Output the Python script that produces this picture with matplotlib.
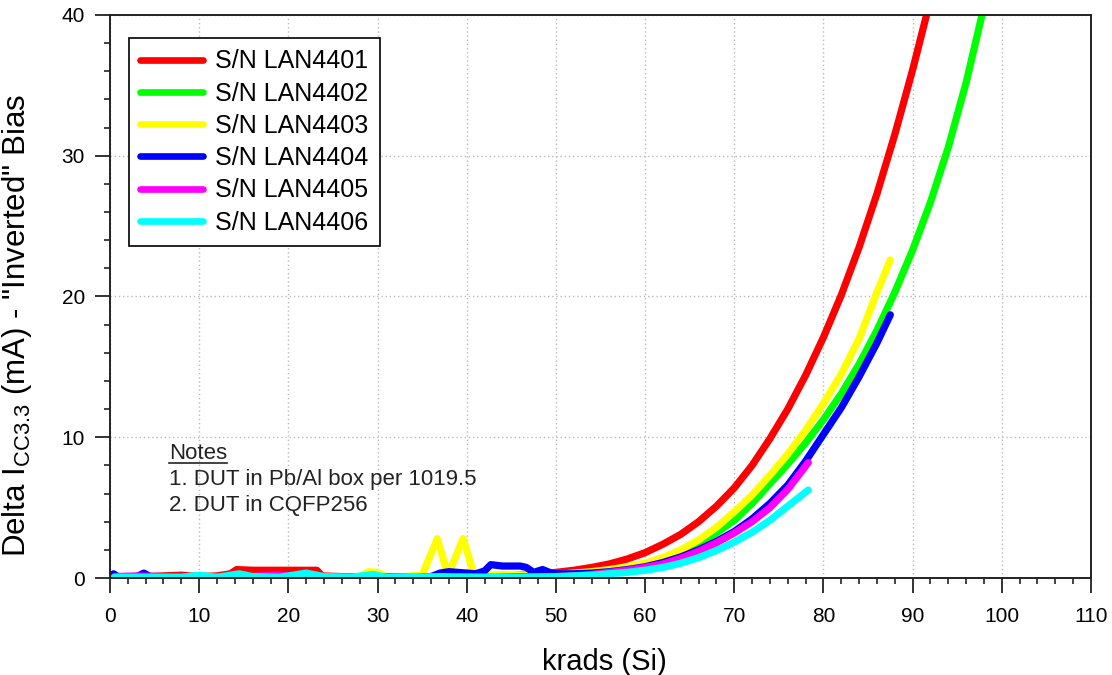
import matplotlib
matplotlib.use("Agg")
import matplotlib.pyplot as plt
from matplotlib.ticker import MultipleLocator
from matplotlib.lines import Line2D

plt.rcParams['font.family'] = ['Liberation Sans', 'DejaVu Sans']
plt.rcParams['mathtext.fontset'] = 'custom'
plt.rcParams['mathtext.rm'] = 'Liberation Sans'
plt.rcParams['mathtext.it'] = 'Liberation Sans'

# delta Icc3.3 (mA) vs total dose (krads Si), one series per part
labels = ['S/N LAN4401', 'S/N LAN4402', 'S/N LAN4403',
          'S/N LAN4404', 'S/N LAN4405', 'S/N LAN4406']
colors = ['#ff0000', '#00ff00', '#ffff00', '#0000ff', '#ff00ff', '#00ffff']

x_4401 = [0.5, 2, 4, 6, 8, 10, 12, 13.5, 14.2, 16, 18, 20, 22, 23.2, 23.8, 26, 28, 30, 32,
          34, 36, 38, 40, 42, 44, 46, 48, 50, 52, 54, 56, 58, 60, 62, 64, 66, 68, 70,
          72, 74, 76, 78, 80, 82, 84, 86, 88, 90, 92]
y_4401 = [0.1, 0.05, 0.1, 0.15, 0.2, 0.1, 0.15, 0.3, 0.6, 0.55, 0.55, 0.55, 0.55, 0.55, 0.15, 0.1,
          0.05, 0.05, 0.1, 0.05, 0.1, 0.2, 0.1, 0.05, 0.15, 0.2, 0.3, 0.4, 0.55, 0.75, 1.0,
          1.35, 1.8, 2.4, 3.1, 4.0, 5.1, 6.4, 8.0, 9.9, 12.0, 14.4, 17.1, 20.1, 23.5, 27.3,
          31.5, 36.1, 41.1]

x_4402 = [0.5, 5, 10, 15, 20, 25, 30, 35, 40, 45, 50, 52, 54, 56, 58, 60, 62, 64, 66, 68,
          70, 72, 74, 76, 78, 80, 82, 84, 86, 88, 90, 92, 94, 96, 98]
y_4402 = [0.0, 0.05, 0.0, 0.05, 0.05, 0.0, 0.05, 0.0, 0.05, 0.05, 0.15, 0.25, 0.35, 0.5,
          0.7, 0.95, 1.3, 1.8, 2.4, 3.2, 4.1, 5.3, 6.7, 8.1, 9.6, 11.25, 13.1, 15.2, 17.6,
          20.3, 23.3, 26.7, 30.6, 35.2, 40.6]

x_4403 = [0.5, 5, 10, 15, 20, 25, 28, 29, 30, 31, 33, 35, 36.7, 37.9, 39.6, 40.8, 42, 44,
          46, 48, 50, 52, 54, 56, 58, 60, 62, 64, 66, 68, 70, 72, 74, 76, 78, 80, 82, 84,
          86, 87.5]
y_4403 = [0.05, 0.05, 0.05, 0.05, 0.05, 0.05, 0.1, 0.45, 0.4, 0.1, 0.1, 0.2, 2.8, 0.2, 2.8,
          0.3, 0.2, 0.25, 0.2, 0.25, 0.25, 0.35, 0.45, 0.6, 0.8, 1.05, 1.45, 2.0, 2.7, 3.6,
          4.7, 5.9, 7.3, 8.8, 10.5, 12.4, 14.5, 17.0, 20.3, 22.6]

x_4404 = [0.4, 1, 3, 3.8, 4.5, 10, 20, 30, 34, 36, 37, 38, 39, 40, 41, 42, 42.7, 44, 46,
          46.7, 47.5, 48.5, 49.5, 50, 52, 54, 56, 58, 60, 62, 64, 66, 68, 70, 72, 74, 76,
          78, 80, 82, 84, 86, 87.5]
y_4404 = [0.3, 0.05, 0.1, 0.35, 0.1, 0.05, 0.05, 0.05, 0.0, 0.1, 0.35, 0.45, 0.4, 0.35, 0.3,
          0.5, 0.95, 0.85, 0.85, 0.75, 0.4, 0.6, 0.35, 0.3, 0.3, 0.35, 0.45, 0.6, 0.8, 1.1,
          1.5, 2.0, 2.6, 3.3, 4.2, 5.3, 6.6, 8.3, 10.2, 12.1, 14.3, 16.7, 18.7]

x_4405 = [0.5, 3, 6, 9, 12, 15, 17, 18.5, 20.5, 22, 25, 28, 31, 34, 37, 40, 43, 46, 50, 52,
          54, 56, 58, 60, 62, 64, 66, 68, 70, 72, 74, 76, 78.3]
y_4405 = [0.1, 0.15, 0.1, 0.05, 0.1, 0.05, 0.15, 0.2, 0.15, 0.05, 0.1, 0.05, 0.1, 0.05,
          0.1, 0.1, 0.05, 0.1, 0.1, 0.15, 0.25, 0.4, 0.55, 0.75, 1.0, 1.4, 1.9, 2.5, 3.2,
          4.0, 5.0, 6.3, 8.2]

x_4406 = [0.5, 4, 8, 10, 12, 14.5, 16, 19, 22, 24, 27, 29.5, 31, 34, 37, 40, 43, 46, 50,
          52, 54, 56, 58, 60, 62, 64, 66, 68, 70, 72, 74, 76, 78.3]
y_4406 = [0.05, 0.05, 0.05, 0.2, 0.05, 0.3, 0.1, 0.05, 0.35, 0.1, 0.05, 0.25, 0.05, 0.05,
          0.1, 0.05, 0.05, 0.05, 0.1, 0.15, 0.2, 0.3, 0.4, 0.55, 0.75, 1.05, 1.45, 1.95,
          2.55, 3.25, 4.1, 5.1, 6.25]

series = [(x_4401, y_4401), (x_4402, y_4402), (x_4403, y_4403),
          (x_4404, y_4404), (x_4405, y_4405), (x_4406, y_4406)]

fig = plt.figure(figsize=(11.12, 6.75), dpi=100)
ax = fig.add_axes([0.0989, 0.1437, 0.8822, 0.8341])

for (xs, ys), c, lab in zip(series, colors, labels):
    ax.plot(xs, ys, color=c, lw=5.2, label=lab, solid_capstyle='round',
            solid_joinstyle='round')

ax.set_xlim(0, 110)
ax.set_ylim(0, 40)
ax.xaxis.set_major_locator(MultipleLocator(10))
ax.xaxis.set_minor_locator(MultipleLocator(2))
ax.yaxis.set_major_locator(MultipleLocator(10))
ax.yaxis.set_minor_locator(MultipleLocator(2))
ax.tick_params(which='major', direction='out', length=11, width=1.3, labelsize=15,
               color='#222222')
ax.tick_params(which='minor', direction='out', length=4.5, width=1.2, color='#222222')
ax.tick_params(axis='x', which='major', pad=10)
ax.tick_params(axis='y', which='major', pad=7)
for sp in ax.spines.values():
    sp.set_linewidth(1.4)
    sp.set_color('#222222')

ax.grid(True, which='major', color='#bbbbbb', linestyle=(0, (1, 2)), lw=1.0)
ax.set_axisbelow(True)

ax.set_xlabel('krads (Si)', fontsize=21)
ax.xaxis.set_label_coords(0.504, -0.125)
ax.set_ylabel('Delta I$_{\\mathrm{CC3.3}}$ (mA) - "Inverted" Bias', fontsize=22.5)
ax.yaxis.set_label_coords(-0.077, 0.449)

leg = ax.legend(loc='upper left', bbox_to_anchor=(0.0194, 0.959), fontsize=18,
                frameon=True, fancybox=False, edgecolor='black', framealpha=1,
                handlelength=2.5, handletextpad=0.5, labelspacing=0.33,
                borderpad=0.45, borderaxespad=0)
leg.get_frame().set_linewidth(1.2)
for h in leg.get_lines():
    h.set_linewidth(4.8)

# notes block, with the heading underlined
notes = ax.text(6.6, 9.6, 'Notes', fontsize=16, va='top', ha='left', color='#222222')
ax.text(6.6, 7.75, '1. DUT in Pb/Al box per 1019.5\n2. DUT in CQFP256', fontsize=16,
        va='top', ha='left', linespacing=1.3, color='#222222')
fig.canvas.draw()
bb = notes.get_window_extent().transformed(fig.transFigure.inverted())
fig.add_artist(Line2D([bb.x0, bb.x1], [bb.y0 + 0.002, bb.y0 + 0.002], color='#222222',
                      lw=1.2, transform=fig.transFigure))

fig.savefig('out.png', dpi=100)
